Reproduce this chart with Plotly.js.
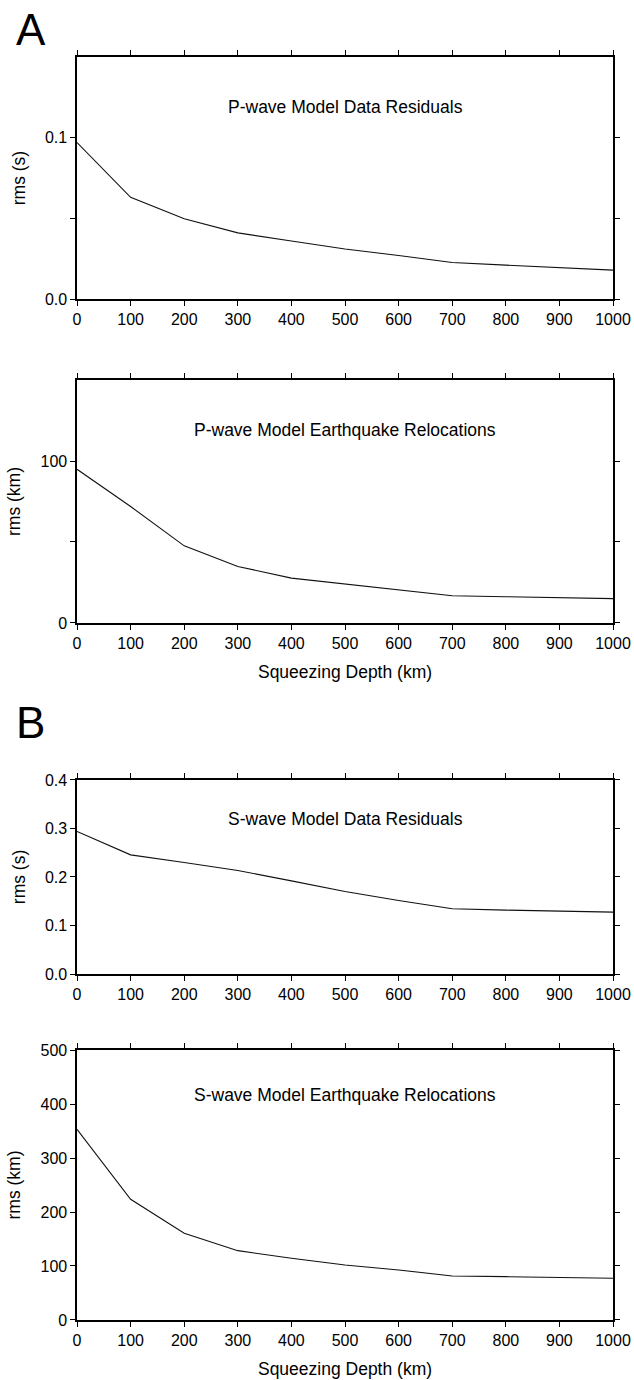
<!DOCTYPE html>
<html>
<head>
<meta charset="utf-8">
<script src="https://cdn.plot.ly/plotly-3.0.1.min.js"></script>
<style>
  html, body { margin: 0; padding: 0; background: #fff; }
  #chart { width: 634px; height: 1380px; }
</style>
</head>
<body>
<div id="chart"></div>
<script>
// Squeezing depth (km), shared by all four panels
const depth = [0, 100, 200, 300, 400, 500, 600, 700, 800, 900, 1000];

// P-wave model: rms data residuals (s) and earthquake relocation rms (km)
const pResidual = [0.097, 0.0630, 0.0497, 0.041, 0.036, 0.031, 0.027, 0.0226, 0.021, 0.0195, 0.0179];
const pRelocation = [94.9, 71.9, 47.6, 34.9, 27.7, 24.2, 20.5, 16.8, 16.2, 15.6, 15.0];

// S-wave model: rms data residuals (s) and earthquake relocation rms (km)
const sResidual = [0.2937, 0.2456, 0.230, 0.2134, 0.192, 0.170, 0.1516, 0.1345, 0.1317, 0.130, 0.1276];
const sRelocation = [353, 223.5, 160.5, 128.4, 114.2, 101.9, 92.6, 81.5, 80.2, 78.4, 77.2];

const panelTitles = [
  'P-wave Model Data Residuals',
  'P-wave Model Earthquake Relocations',
  'S-wave Model Data Residuals',
  'S-wave Model Earthquake Relocations'
];
const yTitles = ['rms (s)', 'rms (km)', 'rms (s)', 'rms (km)'];
const yRanges = [[0, 0.15], [0, 150], [0, 0.4], [0, 500]];
const yTickVals = [[0, 0.05, 0.1], [0, 50, 100], [0, 0.1, 0.2, 0.3, 0.4], [0, 100, 200, 300, 400, 500]];
const yTickText = [['0.0', '', '0.1'], ['0', '', '100'], ['0.0', '0.1', '0.2', '0.3', '0.4'], ['0', '100', '200', '300', '400', '500']];
const xTickVals = [0, 100, 200, 300, 400, 500, 600, 700, 800, 900, 1000];
const xTitle = 'Squeezing Depth (km)';

const series = [pResidual, pRelocation, sResidual, sRelocation];
const xTitled = [false, true, false, true];
const yDomains = [[0.7833, 0.9587], [0.5486, 0.7246], [0.2942, 0.4348], [0.0435, 0.2391]];
const xDomain = [0.1215, 0.9669];
const titleHeights = [0.793, 0.794, 0.80, 0.833];

const font = { family: '"Liberation Sans", Arial, Helvetica, sans-serif', color: '#000' };
const withSize = s => Object.assign({ size: s }, font);

const traces = [];
const layout = {
  width: 634,
  height: 1380,
  margin: { l: 0, r: 0, t: 0, b: 0 },
  paper_bgcolor: '#fff',
  plot_bgcolor: '#fff',
  showlegend: false,
  font: withSize(16),
  annotations: [],
};

series.forEach((vals, i) => {
  const n = i + 1;
  const xa = n === 1 ? 'xaxis' : 'xaxis' + n;
  const ya = n === 1 ? 'yaxis' : 'yaxis' + n;
  const xr = n === 1 ? 'x' : 'x' + n;
  const yr = n === 1 ? 'y' : 'y' + n;

  traces.push({
    x: depth,
    y: vals,
    xaxis: xr,
    yaxis: yr,
    type: 'scatter',
    mode: 'lines',
    line: { color: '#111', width: 1.1 },
    hoverinfo: 'skip'
  });

  layout[xa] = {
    domain: xDomain,
    anchor: yr,
    range: [0, 1000],
    tickvals: xTickVals,
    ticks: 'outside',
    ticklen: 5,
    tickwidth: 1,
    tickcolor: '#000',
    showline: true,
    linecolor: '#000',
    linewidth: 1.6,
    mirror: 'allticks',
    showgrid: false,
    zeroline: false,
    tickfont: withSize(16),
    title: xTitled[i]
      ? { text: xTitle, font: withSize(17.5), standoff: 15 }
      : { text: '' }
  };

  layout[ya] = {
    domain: yDomains[i],
    anchor: xr,
    range: yRanges[i],
    tickvals: yTickVals[i],
    ticktext: yTickText[i],
    ticks: 'outside',
    ticklen: 5,
    tickwidth: 1,
    tickcolor: '#000',
    showline: true,
    linecolor: '#000',
    linewidth: 1.6,
    mirror: 'allticks',
    showgrid: false,
    zeroline: false,
    tickfont: withSize(16),
    title: { text: yTitles[i], font: withSize(17.5), standoff: 15 }
  };

  layout.annotations.push({
    text: panelTitles[i],
    xref: xr,
    yref: yr + ' domain',
    x: 500,
    y: titleHeights[i],
    xanchor: 'center',
    yanchor: 'middle',
    showarrow: false,
    font: withSize(17.5)
  });
});

// Panel letters
layout.annotations.push({
  text: 'A', xref: 'paper', yref: 'paper', x: 0.022, y: 1 - 29 / 1380,
  xanchor: 'left', yanchor: 'middle', showarrow: false,
  font: withSize(44)
});
layout.annotations.push({
  text: 'B', xref: 'paper', yref: 'paper', x: 0.022, y: 1 - 722 / 1380,
  xanchor: 'left', yanchor: 'middle', showarrow: false,
  font: withSize(44)
});

Plotly.newPlot('chart', traces, layout, { staticPlot: true, displayModeBar: false });
</script>
</body>
</html>
